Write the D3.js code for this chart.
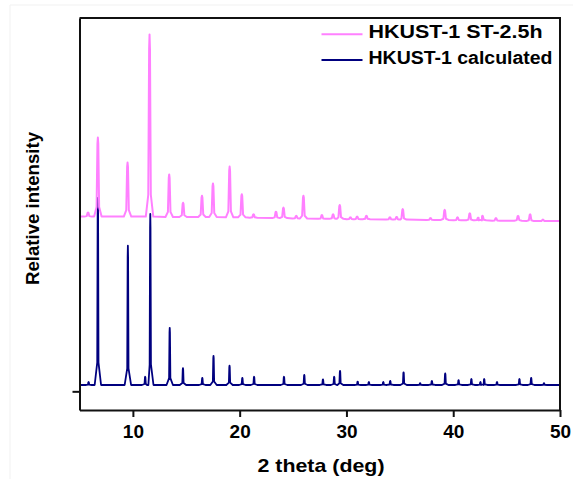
<!DOCTYPE html>
<html>
<head>
<meta charset="utf-8">
<script src="https://cdn.jsdelivr.net/npm/d3@7"></script>
<style>
  body { margin: 0; background: #fff; }
  text { font-family: "Liberation Sans", Arial, sans-serif; font-weight: bold; fill: #000; }
</style>
</head>
<body>
<svg width="573" height="479"></svg>
<script>
// peaks: [2theta, top]  (baseline of calculated pattern = 17)
const calcBase = 17;
const calcPeaks = [
  [5.85, 25], [6.72, 518], [9.53, 390], [11.15, 39], [11.63, 475], [13.45, 170],
  [14.69, 62], [16.5, 36], [17.55, 95], [19.05, 69], [20.25, 36], [21.35, 39],
  [24.15, 39], [26.05, 44], [27.8, 32], [28.85, 39], [29.4, 55], [31.05, 26],
  [32.1, 25], [33.45, 25], [34.1, 28], [35.35, 51], [36.9, 22], [38.0, 28],
  [39.25, 48], [40.5, 30], [41.7, 33], [42.55, 25], [42.9, 33], [44.1, 25],
  [46.2, 33], [47.3, 36], [48.5, 22]
];
const calcEnds = [[5, 17], [50, 17]];

// measured pattern: [2theta, local baseline, top]
const stPeaks = [
  [5.8, 468, 479], [6.72, 468, 680], [9.5, 468, 613], [11.56, 468, 956],
  [13.4, 467, 581], [14.7, 467, 505], [16.47, 467, 524], [17.5, 467, 557],
  [19.06, 466, 602], [20.2, 466, 528], [21.3, 465, 474], [23.4, 464, 481],
  [24.1, 464, 492], [25.3, 463, 470], [25.97, 463, 524], [27.7, 462, 472],
  [28.75, 462, 474], [29.37, 462, 499], [30.37, 461, 466], [31.0, 461, 468],
  [31.87, 461, 470], [34.07, 460, 466], [34.7, 460, 467], [35.27, 460, 488],
  [37.87, 459, 464], [39.2, 459, 486], [40.4, 458, 466], [41.55, 458, 477],
  [42.34, 458, 465], [42.74, 458, 470], [44.0, 457, 464], [46.07, 457, 470],
  [47.2, 456, 474], [48.4, 456, 460]
];
const stEnds = [[5, 468], [50, 456]];

const xTicks = [10, 20, 30, 40, 50];
const seriesNames = ["HKUST-1 ST-2.5h", "HKUST-1 calculated"];
const colors = ["#ff80ff", "#00007f"];

const svg = d3.select("svg");

const x = d3.scaleLinear().domain([5, 50]).range([79.5, 560]);
const y = d3.scaleLinear().domain([-50, 1000]).range([410, 18]);

// faint screenshot border
svg.append("path")
    .attr("d", "M10,479V5H573")
    .attr("fill", "none")
    .attr("stroke", "#f1f1f1");

// turn a peak list into a stick-like profile
function profile(peaks, ends, inner, foot, cap) {
  const pts = ends.slice();
  peaks.forEach(p => {
    const t = p[0], b = p[1], top = p[2];
    const mid = b + (top - b) * 0.12;
    const hi = top - (top - b) * 0.08;
    pts.push([t - foot, b], [t - inner, mid], [t - cap, hi], [t, top],
             [t + cap, hi], [t + inner, mid], [t + foot, b]);
  });
  return pts.sort((a, b) => a[0] - b[0]);
}

const calcPts = profile(calcPeaks.map(d => [d[0], calcBase, d[1]]), calcEnds, 0.06, 0.3, 0.02);
const stPts = profile(stPeaks, stEnds, 0.12, 0.35, 0.04);

svg.append("clipPath").attr("id", "clip")
  .append("rect")
    .attr("x", x(5)).attr("y", y(1000))
    .attr("width", x(50) - x(5)).attr("height", y(-50) - y(1000));

const line = d3.line()
    .x(d => x(d[0]))
    .y(d => y(d[1]));

const plot = svg.append("g").attr("clip-path", "url(#clip)");

plot.append("path")
    .datum(calcPts)
    .attr("d", line)
    .attr("fill", "none")
    .attr("stroke", colors[1])
    .attr("stroke-width", 1.8)
    .attr("stroke-linejoin", "round");

plot.append("path")
    .datum(stPts)
    .attr("d", line)
    .attr("fill", "none")
    .attr("stroke", colors[0])
    .attr("stroke-width", 2)
    .attr("stroke-linejoin", "round");

// axes
const xAxis = svg.append("g")
    .attr("transform", `translate(0,${y(-50)})`)
    .call(d3.axisBottom(x).tickValues(xTicks).tickSize(7).tickSizeOuter(0).tickPadding(8));

const yAxis = svg.append("g")
    .attr("transform", `translate(${x(5)},0)`)
    .call(d3.axisLeft(y).tickValues([0]).tickFormat("").tickSize(7).tickSizeOuter(0));

[xAxis, yAxis].forEach(a => {
  a.selectAll("path, line").attr("stroke", "#111").attr("stroke-width", 2);
  a.selectAll("text").style("font-size", "19px").attr("fill", "#000");
});

// top and right frame
svg.append("path")
    .attr("d", `M${x(5)},${y(1000)}H${x(50)}V${y(-50)}`)
    .attr("fill", "none")
    .attr("stroke", "#111")
    .attr("stroke-width", 2);

svg.append("text")
    .attr("x", 321).attr("y", 471.5)
    .attr("text-anchor", "middle")
    .attr("textLength", 127).attr("lengthAdjust", "spacingAndGlyphs")
    .style("font-size", "19px")
    .text("2 theta (deg)");

svg.append("text")
    .attr("transform", "translate(38.5,208.5) rotate(-90)")
    .attr("text-anchor", "middle")
    .attr("textLength", 153).attr("lengthAdjust", "spacingAndGlyphs")
    .style("font-size", "18.5px")
    .text("Relative intensity");

// legend
const legend = svg.append("g");
const legendW = [174, 184];
seriesNames.forEach((name, i) => {
  const ly = 34.3 + i * 25.8;
  legend.append("line")
      .attr("x1", 321.5).attr("x2", 362.5)
      .attr("y1", ly).attr("y2", ly)
      .attr("stroke", colors[i])
      .attr("stroke-width", 2);
  legend.append("text")
      .attr("x", 368.5).attr("y", ly + 4)
      .attr("textLength", legendW[i]).attr("lengthAdjust", "spacingAndGlyphs")
      .style("font-size", "17.5px")
      .text(name);
});
</script>
</body>
</html>
